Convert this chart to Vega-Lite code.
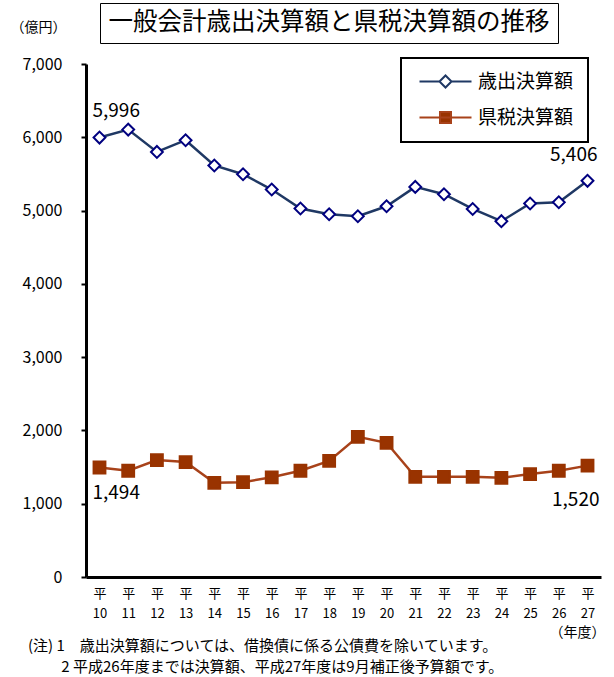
{
  "$schema": "https://vega.github.io/schema/vega-lite/v6.json",
  "width": 515,
  "height": 513,
  "autosize": {"type": "none"},
  "padding": {"left": 86, "top": 64, "right": 13, "bottom": 100},
  "config": {
    "font": "Noto Sans CJK JP",
    "view": {"stroke": null},
    "axis": {"grid": false, "labelColor": "black", "titleColor": "black"}
  },
  "title": {
    "text": ["(注) 1　歳出決算額については、借換債に係る公債費を除いています。", "\u200b　　 2 平成26年度までは決算額、平成27年度は9月補正後予算額です。"],
    "orient": "bottom",
    "anchor": "start",
    "frame": "group",
    "dx": -58,
    "dy": 0,
    "offset": 0,
    "fontSize": 15,
    "fontWeight": "normal",
    "lineHeight": 21,
    "color": "black"
  },
  "data": {
    "values": [
      {"year": "10", "series": "歳出決算額", "value": 5996},
      {"year": "11", "series": "歳出決算額", "value": 6105},
      {"year": "12", "series": "歳出決算額", "value": 5800},
      {"year": "13", "series": "歳出決算額", "value": 5960},
      {"year": "14", "series": "歳出決算額", "value": 5615},
      {"year": "15", "series": "歳出決算額", "value": 5496},
      {"year": "16", "series": "歳出決算額", "value": 5287},
      {"year": "17", "series": "歳出決算額", "value": 5028},
      {"year": "18", "series": "歳出決算額", "value": 4950},
      {"year": "19", "series": "歳出決算額", "value": 4923},
      {"year": "20", "series": "歳出決算額", "value": 5059},
      {"year": "21", "series": "歳出決算額", "value": 5323},
      {"year": "22", "series": "歳出決算額", "value": 5223},
      {"year": "23", "series": "歳出決算額", "value": 5022},
      {"year": "24", "series": "歳出決算額", "value": 4855},
      {"year": "25", "series": "歳出決算額", "value": 5096},
      {"year": "26", "series": "歳出決算額", "value": 5114},
      {"year": "27", "series": "歳出決算額", "value": 5406},
      {"year": "10", "series": "県税決算額", "value": 1494},
      {"year": "11", "series": "県税決算額", "value": 1450},
      {"year": "12", "series": "県税決算額", "value": 1595},
      {"year": "13", "series": "県税決算額", "value": 1568},
      {"year": "14", "series": "県税決算額", "value": 1285},
      {"year": "15", "series": "県税決算額", "value": 1294},
      {"year": "16", "series": "県税決算額", "value": 1360},
      {"year": "17", "series": "県税決算額", "value": 1450},
      {"year": "18", "series": "県税決算額", "value": 1585},
      {"year": "19", "series": "県税決算額", "value": 1913},
      {"year": "20", "series": "県税決算額", "value": 1831},
      {"year": "21", "series": "県税決算額", "value": 1367},
      {"year": "22", "series": "県税決算額", "value": 1367},
      {"year": "23", "series": "県税決算額", "value": 1367},
      {"year": "24", "series": "県税決算額", "value": 1353},
      {"year": "25", "series": "県税決算額", "value": 1404},
      {"year": "26", "series": "県税決算額", "value": 1450},
      {"year": "27", "series": "県税決算額", "value": 1520}
    ]
  },
  "encoding": {
    "x": {
      "field": "year",
      "type": "ordinal",
      "scale": {"type": "point", "padding": 0.47},
      "axis": {
        "title": "（年度）",
        "titleX": 491,
        "titleY": 55,
        "titleAlign": "center",
        "titleBaseline": "middle",
        "titleFontSize": 14,
        "titleFontWeight": "normal",
        "labelAngle": 0,
        "labelExpr": "['平', datum.label]",
        "labelFontSize": 13,
        "labelLineHeight": 20,
        "labelBaseline": "top",
        "labelPadding": 10,
        "ticks": false,
        "domainColor": "black",
        "domainWidth": 3
      }
    },
    "y": {
      "field": "value",
      "type": "quantitative",
      "scale": {"domain": [0, 7000], "nice": false},
      "axis": {
        "values": [0, 1000, 2000, 3000, 4000, 5000, 6000, 7000],
        "format": ",d",
        "title": "（億円）",
        "titleAngle": 0,
        "titleX": -76,
        "titleY": -37,
        "titleAlign": "left",
        "titleBaseline": "middle",
        "titleFontSize": 14,
        "titleFontWeight": "normal",
        "labelFontSize": 16,
        "labelPadding": 19,
        "tickSize": 5,
        "tickWidth": 2,
        "tickColor": "black",
        "domainColor": "black",
        "domainWidth": 3
      }
    }
  },
  "layer": [
    {
      "mark": {"type": "line", "strokeWidth": 2.5},
      "encoding": {
        "color": {
          "field": "series",
          "type": "nominal",
          "scale": {"domain": ["歳出決算額", "県税決算額"], "range": ["#1F3864", "#A8421A"]},
          "legend": {
            "title": null,
            "orient": "none",
            "legendX": 315,
            "legendY": -6,
            "strokeColor": "black",
            "padding": 14,
            "labelFontSize": 19,
            "labelColor": "black",
            "rowPadding": 16,
            "symbolSize": 100,
            "symbolOffset": 21,
            "labelOffset": 23,
            "encode": {
              "legend": {"update": {"strokeWidth": {"value": 2}}},
              "symbols": {
                "update": {
                  "shape": {"signal": "datum.value === '歳出決算額' ? 'M-5.2,0L-1.2,0M-1.2,0L0,-1.2L1.2,0L0,1.2ZM1.2,0L5.2,0' : 'M-5.2,0L5.2,0M-1.1,-1.1L1.1,-1.1L1.1,1.1L-1.1,1.1Z'"},
                  "fill": {"signal": "datum.value === '歳出決算額' ? 'white' : '#993300'"},
                  "stroke": {"signal": "datum.value === '歳出決算額' ? '#0A1F70' : '#993300'"},
                  "strokeWidth": {"value": 2},
                  "opacity": {"value": 1}
                }
              }
            }
          }
        }
      }
    },
    {
      "mark": {"type": "point", "filled": true, "strokeWidth": 2, "opacity": 1, "size": 140},
      "encoding": {
        "shape": {"condition": {"test": "datum.series === '歳出決算額'", "value": "diamond"}, "value": "square"},
        "fill": {"condition": {"test": "datum.series === '歳出決算額'", "value": "white"}, "value": "#993300"},
        "stroke": {"condition": {"test": "datum.series === '歳出決算額'", "value": "#000080"}, "value": "#993300"}
      }
    },
    {
      "transform": [{"filter": "datum.year === '10' && datum.series === '歳出決算額'"}],
      "mark": {"type": "text", "align": "left", "baseline": "middle", "dx": -7, "dy": -27, "fontSize": 19, "color": "black"},
      "encoding": {
        "text": {"field": "value", "type": "quantitative", "format": ",d"},
        "opacity": {
          "datum": "一般会計歳出決算額と県税決算額の推移",
          "type": "ordinal",
          "scale": {"range": [1, 1]},
          "legend": {
            "title": null,
            "orient": "none",
            "legendX": 14,
            "legendY": -61,
            "strokeColor": "black",
            "padding": 8,
            "labelFontSize": 24.5,
            "labelColor": "black",
            "labelLimit": 1000,
            "labelOffset": -24,
            "symbolSize": 0,
            "symbolOpacity": 0,
            "symbolStrokeWidth": 0,
            "encode": {"legend": {"update": {"strokeWidth": {"value": 2}}}}
          }
        }
      }
    },
    {
      "transform": [{"filter": "datum.year === '27' && datum.series === '歳出決算額'"}],
      "mark": {"type": "text", "align": "right", "baseline": "middle", "dx": 10, "dy": -26, "fontSize": 19, "color": "black"},
      "encoding": {"text": {"field": "value", "type": "quantitative", "format": ",d"}}
    },
    {
      "transform": [{"filter": "datum.year === '10' && datum.series === '県税決算額'"}],
      "mark": {"type": "text", "align": "left", "baseline": "middle", "dx": -7, "dy": 25, "fontSize": 19, "color": "black"},
      "encoding": {"text": {"field": "value", "type": "quantitative", "format": ",d"}}
    },
    {
      "transform": [{"filter": "datum.year === '27' && datum.series === '県税決算額'"}],
      "mark": {"type": "text", "align": "right", "baseline": "middle", "dx": 12, "dy": 34, "fontSize": 19, "color": "black"},
      "encoding": {"text": {"field": "value", "type": "quantitative", "format": ",d"}}
    }
  ]
}
